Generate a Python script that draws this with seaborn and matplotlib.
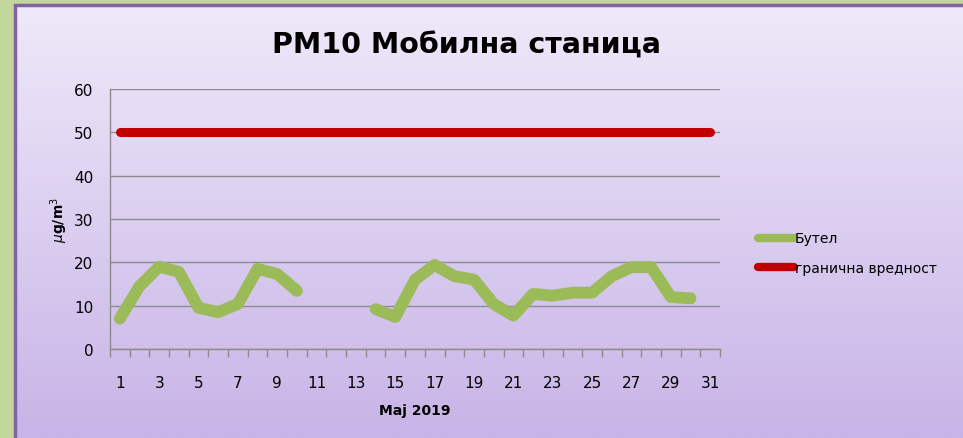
import numpy as np
import pandas as pd
import seaborn as sns
import matplotlib.pyplot as plt
from matplotlib.colors import LinearSegmentedColormap
from matplotlib.lines import Line2D
from matplotlib.patches import Rectangle

# Data (May 2019, PM10, Butel station)
days = list(range(1, 32))
butel = [7, 14.5, 19, 17.8, 9.5, 8.5, 10.4, 18.5, 17.3, 13.4,
         np.nan, np.nan, np.nan,
         9.2, 7.4, 16, 19.4, 16.8, 16, 10.4, 7.7, 12.7, 12.3, 13, 13,
         16.8, 18.9, 18.9, 12, 11.7, np.nan]
limit = [50] * 31
tick_days = list(range(1, 32, 2))

title = 'PM10 Мобилна станица'
xlabel = 'Мај 2019'
ylabel = r'$\mu$g/m$^3$'
series_names = ['Бутел', 'гранична вредност']

green = '#9bbb59'
red = '#c00000'

sns.set_theme(style='white')
plt.rcParams['font.family'] = ['DejaVu Sans']
plt.rcParams['text.color'] = 'black'
plt.rcParams['axes.labelcolor'] = 'black'
plt.rcParams['xtick.color'] = 'black'
plt.rcParams['ytick.color'] = 'black'

fig = plt.figure(figsize=(9.63, 4.39), dpi=100)
fig.patch.set_facecolor('#c3d69b')

# background panel with vertical gradient
bg = fig.add_axes([15 / 963, 0, 1, 433 / 439])
cmap = LinearSegmentedColormap.from_list('bg', ['#efe9f9', '#c8b4e7'])
bg.imshow(np.linspace(0, 1, 256).reshape(-1, 1), aspect='auto', cmap=cmap,
          extent=[0, 1, 0, 1], origin='upper')
bg.set_xlim(0, 1)
bg.set_ylim(0, 1)
bg.axis('off')
bg.add_patch(Rectangle((0, -0.2), 1.2, 1.2, fill=False, ec='#8064a2', lw=2.5,
                       transform=bg.transAxes, clip_on=False))

ax = fig.add_axes([110 / 963, 89 / 439, 610 / 963, 260 / 439])
ax.patch.set_alpha(0)

# split green series into continuous segments (gap on days 11-13)
df = pd.DataFrame({'day': days, 'value': butel})
df['seg'] = df['value'].isna().cumsum()
df = df.dropna()
sns.lineplot(data=df, x='day', y='value', units='seg', estimator=None,
             color=green, lw=8.5, solid_capstyle='round',
             solid_joinstyle='round', ax=ax, legend=False)
sns.lineplot(x=days, y=limit, color=red, lw=6.5, solid_capstyle='round',
             ax=ax, legend=False)

ax.set_xlim(0.5, 31.5)
ax.set_ylim(0, 60)
ax.set_yticks(range(0, 61, 10))
ax.set_xticks(tick_days)
ax.set_xticks(np.arange(0.5, 32, 1), minor=True)
ax.grid(axis='y', color='#8c8c8c', lw=1)
ax.set_axisbelow(True)
for s in ['top', 'right']:
    ax.spines[s].set_visible(False)
for s in ['left', 'bottom']:
    ax.spines[s].set_color('#8c8c8c')
    ax.spines[s].set_linewidth(1)
ax.tick_params(axis='y', which='major', direction='out', length=6,
               color='#8c8c8c', labelsize=11, pad=6)
ax.tick_params(axis='x', which='major', length=0, labelsize=11, pad=19)
ax.tick_params(axis='x', which='minor', direction='out', length=6,
               color='#8c8c8c', bottom=True)

ax.set_xlabel(xlabel, fontsize=10, fontweight='bold', labelpad=9)
ax.set_ylabel(ylabel, fontsize=10, fontweight='bold', labelpad=3)
fig.text(466 / 963, 1 - 46 / 439, title, fontsize=20.5, fontweight='bold',
         ha='center', va='center')

handles = [Line2D([], [], color=green, lw=6, solid_capstyle='round'),
           Line2D([], [], color=red, lw=6, solid_capstyle='round')]
fig.legend(handles, series_names, loc='center left',
           bbox_to_anchor=(745 / 963, 1 - 254 / 439), frameon=False,
           fontsize=10, handlelength=2.6, handletextpad=0.1,
           labelspacing=1.1)

plt.savefig('out.png', dpi=100, facecolor=fig.get_facecolor())
